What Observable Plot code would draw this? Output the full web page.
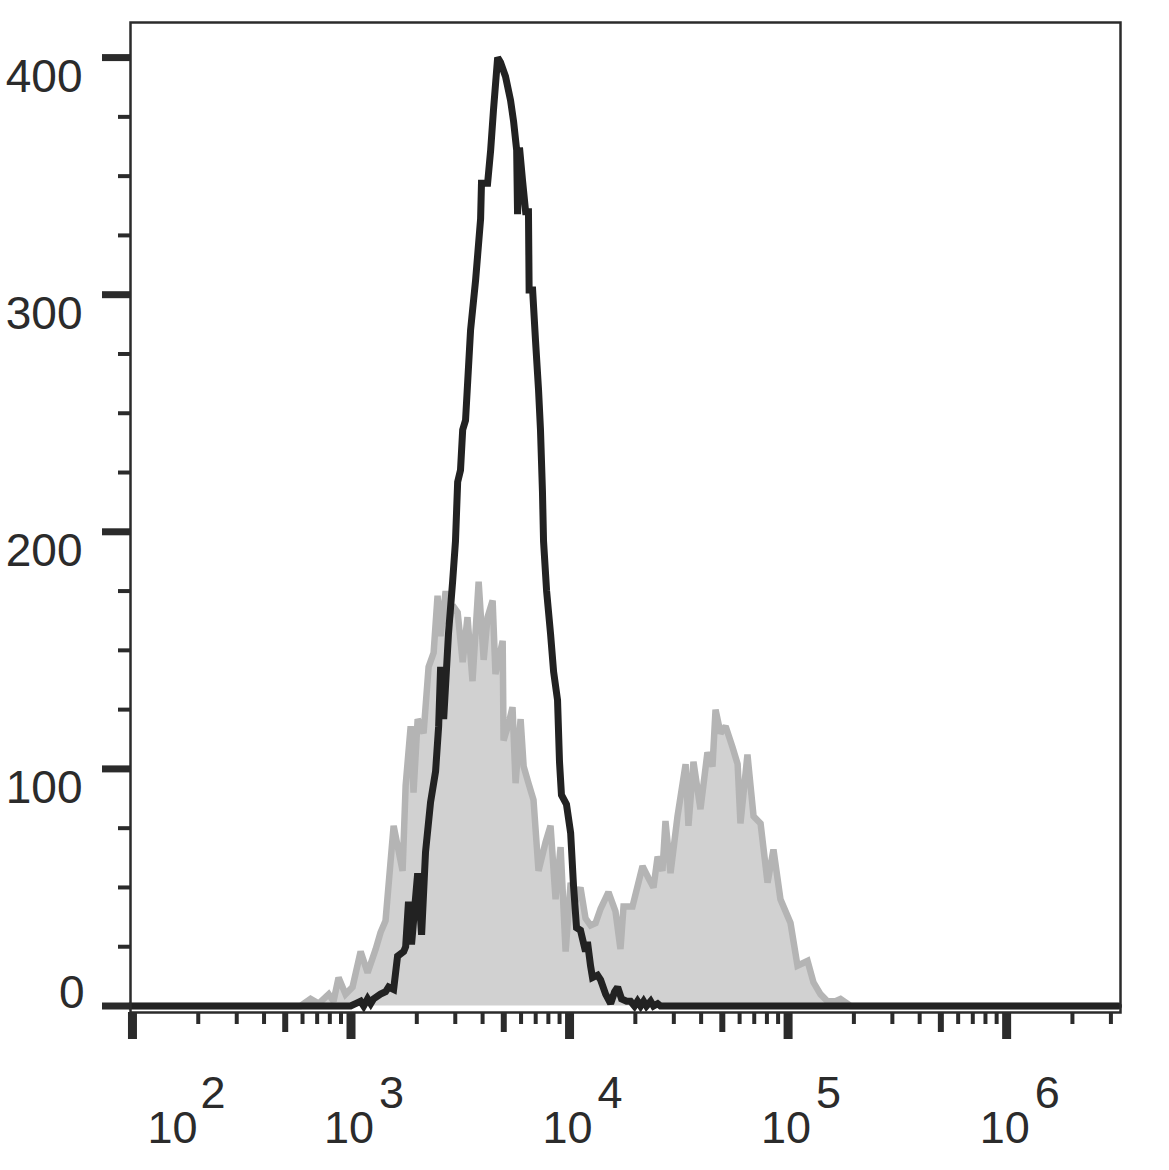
<!DOCTYPE html>
<html>
<head>
<meta charset="utf-8">
<script src="https://cdn.jsdelivr.net/npm/d3@7"></script>
<script src="https://cdn.jsdelivr.net/npm/@observablehq/plot@0.6"></script>
<style>
  html, body { margin: 0; padding: 0; background: #fff; }
  #chart svg { display: block; }
</style>
</head>
<body>
<div id="chart"></div>
<script>
// ---- Data (x as log10 of fluorescence, y as event count) ----
const grayExp = [1.991, 2.769, 2.815, 2.852, 2.898, 2.920, 2.943, 2.975, 3.007, 3.044, 3.076, 3.113, 3.135, 3.158, 3.195, 3.236, 3.250, 3.273, 3.286, 3.305, 3.332, 3.355, 3.378, 3.396, 3.410, 3.433, 3.446, 3.465, 3.488, 3.511, 3.533, 3.556, 3.584, 3.607, 3.625, 3.648, 3.661, 3.694, 3.698, 3.721, 3.739, 3.753, 3.776, 3.790, 3.812, 3.835, 3.858, 3.890, 3.913, 3.936, 3.959, 3.982, 4.005, 4.027, 4.050, 4.073, 4.096, 4.119, 4.142, 4.178, 4.210, 4.233, 4.247, 4.288, 4.334, 4.361, 4.384, 4.403, 4.425, 4.439, 4.462, 4.494, 4.531, 4.544, 4.567, 4.599, 4.631, 4.654, 4.668, 4.691, 4.714, 4.746, 4.769, 4.782, 4.814, 4.842, 4.874, 4.906, 4.933, 4.965, 5.011, 5.043, 5.089, 5.116, 5.148, 5.180, 5.217, 5.240, 5.286, 6.511];
const grayCount = [0, 0, 3, 1, 5, 2, 12, 5, 8, 23, 14, 24, 31, 36, 76, 57, 93, 118, 90, 121, 115, 143, 149, 173, 156, 175, 161, 169, 166, 145, 164, 137, 179, 146, 164, 171, 140, 154, 112, 119, 126, 94, 121, 101, 94, 87, 57, 69, 76, 45, 67, 23, 52, 44, 50, 37, 34, 35, 41, 48, 40, 24, 42, 42, 59, 54, 50, 63, 57, 78, 56, 80, 102, 76, 103, 83, 107, 101, 125, 115, 118, 109, 102, 77, 106, 80, 77, 52, 66, 45, 35, 17, 19, 10, 5, 2, 2, 3, 0, 0];

const blackExp = [1.991, 2.998, 3.021, 3.044, 3.058, 3.076, 3.090, 3.103, 3.135, 3.158, 3.172, 3.195, 3.213, 3.241, 3.250, 3.263, 3.277, 3.305, 3.323, 3.341, 3.364, 3.387, 3.401, 3.410, 3.424, 3.446, 3.465, 3.478, 3.488, 3.501, 3.511, 3.524, 3.547, 3.570, 3.593, 3.597, 3.625, 3.639, 3.652, 3.671, 3.684, 3.707, 3.730, 3.744, 3.758, 3.762, 3.771, 3.785, 3.799, 3.812, 3.815, 3.831, 3.844, 3.858, 3.867, 3.876, 3.881, 3.895, 3.913, 3.927, 3.945, 3.954, 3.963, 3.986, 4.005, 4.018, 4.032, 4.050, 4.073, 4.082, 4.096, 4.105, 4.128, 4.142, 4.165, 4.188, 4.206, 4.220, 4.238, 4.261, 4.279, 4.297, 4.311, 4.325, 4.339, 4.352, 4.371, 4.384, 4.403, 4.416, 6.511];
const blackCount = [0, 0, 1, 2, 0, 3, 1, 3, 5, 6, 8, 7, 21, 23, 25, 44, 26, 56, 30, 65, 86, 99, 118, 143, 121, 157, 179, 196, 221, 226, 243, 247, 285, 306, 332, 347, 347, 361, 378, 400, 398, 392, 382, 373, 361, 334, 362, 348, 335, 335, 302, 302, 281, 260, 243, 217, 196, 175, 157, 141, 129, 103, 89, 85, 73, 51, 33, 32, 23, 27, 17, 12, 13, 11, 5, 1, 6, 8, 3, 2, 2, 0, 2, 0, 2, 0, 2, 0, 1, 0, 0];

// ---- Axis ticks / labels ----
const yMajor = [0, 100, 200, 300, 400];
const yMinor = [25, 50, 75, 125, 150, 175, 225, 250, 275, 325, 350, 375];
const yLabelsUpper = [100, 200, 300, 400];
const yLabelsZero = [0];
const xDecades = [2, 3, 4, 5, 6];
const xMid = [500, 5000, 50000, 500000];
const xMinor = [200, 300, 400, 600, 700, 800, 900,
                2000, 3000, 4000, 6000, 7000, 8000, 9000,
                20000, 30000, 40000, 60000, 70000, 80000, 90000,
                200000, 300000, 400000, 600000, 700000, 800000, 900000,
                2000000, 3000000];

const gray = grayExp.map((e, i) => ({x: 10 ** e, y: grayCount[i]}));
const black = blackExp.map((e, i) => ({x: 10 ** e, y: blackCount[i]}));

const ink = "#2b2b2b";
const font = "'Liberation Sans', Arial, sans-serif";

const chart = Plot.plot({
  width: 1169,
  height: 1170,
  marginLeft: 130,
  marginRight: 49,
  marginTop: 22,
  marginBottom: 158,
  style: {fontFamily: font, background: "#fff", color: ink},
  x: {type: "log", domain: [10 ** 1.991, 10 ** 6.521], label: null},
  y: {domain: [-2.74, 414.8], label: null},
  marks: [
    Plot.areaY(gray, {x: "x", y: "y", fill: "#d1d1d1"}),
    Plot.lineY(gray, {x: "x", y: "y", stroke: "#b4b4b4", strokeWidth: 6.5, strokeLinejoin: "miter", strokeMiterlimit: 2}),
    Plot.lineY(black, {x: "x", y: "y", stroke: "#222", strokeWidth: 7, strokeLinejoin: "miter", strokeMiterlimit: 2}),
    Plot.frame({stroke: ink, strokeWidth: 2.5}),
    // y ticks
    Plot.axisY({ticks: yMajor, tickSize: 28, strokeWidth: 7, stroke: ink, tickFormat: () => "", label: null}),
    Plot.axisY({ticks: yMinor, tickSize: 12, strokeWidth: 4, stroke: ink, tickFormat: () => "", label: null}),
    Plot.text(yLabelsUpper, {y: d => d, text: d => String(d), frameAnchor: "left", textAnchor: "end", lineAnchor: "bottom", dx: -48, dy: 34, fontSize: 46, fill: ink}),
    Plot.text(yLabelsZero, {y: d => d, text: d => String(d), frameAnchor: "left", textAnchor: "end", lineAnchor: "bottom", dx: -46, dy: 1.5, fontSize: 46, fill: ink}),
    // x ticks
    Plot.axisX({ticks: xDecades.map(e => 10 ** e), tickSize: 27, strokeWidth: 9, stroke: ink, tickFormat: () => "", label: null}),
    Plot.axisX({ticks: xMid, tickSize: 20, strokeWidth: 6, stroke: ink, tickFormat: () => "", label: null}),
    Plot.axisX({ticks: xMinor, tickSize: 12, strokeWidth: 4, stroke: ink, tickFormat: () => "", label: null}),
    // x labels: "10" with superscript exponent
    Plot.text(xDecades.filter(e => e > 2), {x: e => 10 ** e, text: () => "10", frameAnchor: "bottom", textAnchor: "start", lineAnchor: "bottom", dx: -27, dy: 130, fontSize: 45, fill: ink}),
    Plot.text(xDecades.filter(e => e > 2), {x: e => 10 ** e, text: e => String(e), frameAnchor: "bottom", textAnchor: "start", lineAnchor: "bottom", dx: 28, dy: 95, fontSize: 45, fill: ink}),
    Plot.text(xDecades.filter(e => e === 2), {x: e => 10 ** e, text: () => "10", frameAnchor: "bottom", textAnchor: "start", lineAnchor: "bottom", dx: 15, dy: 130, fontSize: 45, fill: ink}),
    Plot.text(xDecades.filter(e => e === 2), {x: e => 10 ** e, text: e => String(e), frameAnchor: "bottom", textAnchor: "start", lineAnchor: "bottom", dx: 68, dy: 95, fontSize: 45, fill: ink})
  ]
});
document.getElementById("chart").appendChild(chart);
</script>
</body>
</html>
